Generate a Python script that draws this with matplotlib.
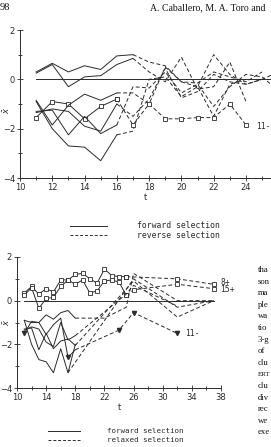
import matplotlib
matplotlib.use("Agg")
import matplotlib.pyplot as plt
import numpy as np

W, H = 271, 447
INK = "#2a2a2a"

# ---------------- top panel data (forward / reverse selection) ----------------
top_fwd_t = [11, 12, 13, 14, 15, 16, 17]
top_fwd = {
    "s1": [0.3, 0.65, 0.3, 0.55, 0.4, 0.95, 1.0],
    "s2": [0.25, 0.6, -0.3, 0.1, 0.15, 0.6, 0.85],
}
top_fwd_low_t = [11, 12, 13, 14, 15, 16]
top_fwd_low = {
    "s3": [-1.55, -0.9, -1.0, -1.6, -1.1, -0.8],
    "s4": [-0.85, -1.85, -1.05, -0.6, -0.85, -0.55],
    "s5": [-0.9, -2.0, -2.7, -2.75, -3.3, -2.25],
    "s6": [-1.3, -1.25, -2.25, -1.5, -2.2, -1.85],
    "s7": [-1.35, -1.2, -1.3, -1.9, -2.1, -1.0],
}
top_rev_t = [16, 17, 18, 19, 20, 21, 22, 23, 24, 25, 26]
top_rev = {
    "s1": [None, 1.0, 0.7, 0.55, -0.1, -0.3, 1.0, 0.2, -0.2, 0.0, 0.3],
    "s2": [None, 0.85, 0.3, -0.1, 0.9, -0.4, -0.3, 0.7, -0.9, None, None],
    "s4": [-0.55, -0.55, -1.0, 0.5, -0.1, -0.15, 0.3, 0.1, -0.1, 0.3, None],
    "s5": [-2.25, -2.1, 0.0, 0.1, -0.7, -0.3, -1.5, -0.2, 0.0, None, None],
    "s6": [-1.85, -0.3, -0.35, 0.3, -0.55, -0.2, -1.1, -0.3, 0.2, 0.1, -0.45],
    "s7": [-1.0, -1.5, -0.8, 0.45, -0.75, -0.5, 0.2, -0.1, -0.2, 0.0, None],
}
top_sq_t = [16, 17, 18, 19, 20, 21, 22, 23, 24]
top_sq = [-0.8, -1.85, -1.0, -1.6, -1.6, -1.55, -1.55, -1.0, -1.85]

# ---------------- bottom panel data (forward / relaxed selection) ----------------
bot_up_t = list(range(11, 26))
bot_8 = [0.35, 0.65, 0.3, 0.55, 0.4, 0.95, 0.95, 1.2, 1.25, 1.0, 0.8, 1.45, 1.15, 1.1, 1.1]
bot_15 = [0.25, 0.6, -0.35, 0.1, 0.15, 0.65, 0.95, 0.75, 0.95, 0.35, 0.45, 0.9, 0.95, 0.85, 0.25]
bot_8_rel_t = [25, 32, 37]
bot_8_rel = [1.1, 1.0, 0.75]
bot_15_rel_t = [25, 26, 32, 37]
bot_15_rel = [0.25, 0.5, 0.75, 0.55]

bot_low_t = [11, 12, 13, 14, 15, 16, 17, 18]
bot_low = {
    "l1": [-1.5, -0.95, -1.0, -1.55, -1.1, -0.8, -2.6, -2.25],
    "l2": [-0.9, -1.0, -1.0, -0.65, -0.85, -0.55, -0.45, -0.8],
    "l3": [-0.9, -2.0, -2.7, -2.8, -3.3, -2.2, -3.3, -2.0],
    "l4": [-1.3, -1.25, -2.25, -1.5, -2.2, -1.85, -1.75, -2.05],
    "l5": [-1.35, -1.2, -1.3, -1.9, -2.1, -1.0, -1.8, -1.6],
}
bot_rel = {
    "l1": ([18, 24, 26, 32], [-2.25, -1.35, -0.55, -1.5]),
    "l2": ([18, 22, 25, 26, 32, 37], [-0.8, -0.8, -0.3, 1.25, 0.0, 0.0]),
    "l3": ([17, 26, 32, 37], [-3.3, 1.0, -0.3, 0.0]),
    "l4": ([18, 26, 32, 37], [-2.05, 0.9, -0.75, 0.0]),
    "l5": ([18, 25, 26, 32], [-1.6, 0.3, 0.7, -0.25]),
}
tri_t = [11, 17, 24, 26, 32]
tri_y = [-1.5, -2.6, -1.35, -0.55, -1.5]

fig = plt.figure(figsize=(W / 100, H / 100), dpi=100)
fig.patch.set_facecolor("white")

LW = 0.7
mono = "DejaVu Sans Mono"
tickfont = 6


def style(ax):
    for s in ("top", "right"):
        ax.spines[s].set_visible(False)
    for s in ("left", "bottom"):
        ax.spines[s].set_color(INK)
        ax.spines[s].set_linewidth(0.7)
    ax.tick_params(which="both", direction="inout", colors=INK, labelsize=tickfont, width=0.6, pad=1.5)
    ax.tick_params(which="major", length=4)
    ax.tick_params(which="minor", length=3)
    ax.set_facecolor("none")


def px_axes(l, r, top, bot):
    return fig.add_axes([l / W, 1 - bot / H, (r - l) / W, (bot - top) / H])


# ---------------- top panel ----------------
ax1 = px_axes(20, 271, 30, 178)
style(ax1)
ax1.set_xlim(10, 10 + 251 / 16.14)
ax1.set_ylim(-4, 2)
ax1.set_xticks(np.arange(10, 25, 2))
ax1.set_xticks(np.arange(10, 26, 1), minor=True)
ax1.set_yticks([-4, -2, 0, 2])
ax1.set_yticks(np.arange(-4, 3, 1), minor=True)
ax1.plot([11, 26], [0, 0], color=INK, lw=LW, clip_on=True)
for k, v in top_fwd.items():
    ax1.plot(top_fwd_t, v, color=INK, lw=LW)
for k, v in top_fwd_low.items():
    ax1.plot(top_fwd_low_t, v, color=INK, lw=LW,
             marker="s" if k == "s3" else None, ms=3, mfc="white", mew=0.6)
for k, v in top_rev.items():
    tt = [t for t, y in zip(top_rev_t, v) if y is not None]
    yy = [y for y in v if y is not None]
    ax1.plot(tt, yy, color=INK, lw=LW, ls=(0, (4, 2.5)))
ax1.plot(top_sq_t, top_sq, color=INK, lw=LW, ls=(0, (4, 2.5)), marker="s", ms=3, mfc="white", mew=0.6)
ax1.text(24.6, -1.9, "11-", fontsize=5.8, color=INK, va="center", family=mono)
ax1.set_xlabel("t", fontsize=6, color=INK, labelpad=1)

# ---------------- bottom panel ----------------
ax2 = px_axes(17, 221, 257, 388)
style(ax2)
ax2.set_xlim(10, 38)
ax2.set_ylim(-4, 2)
ax2.set_xticks(np.arange(10, 39, 4))
ax2.set_xticks(np.arange(10, 39, 2), minor=True)
ax2.set_yticks([-4, -2, 0, 2])
ax2.set_yticks(np.arange(-4, 3, 1), minor=True)
ax2.plot([11, 37], [0, 0], color=INK, lw=LW)
ax2.plot(bot_up_t, bot_8, color=INK, lw=LW, marker="s", ms=3, mfc="white", mew=0.6)
ax2.plot(bot_up_t, bot_15, color=INK, lw=LW, marker="s", ms=3, mfc="white", mew=0.6)
ax2.plot(bot_8_rel_t, bot_8_rel, color=INK, lw=LW, ls=(0, (4, 2.5)), marker="s", ms=3, mfc="white", mew=0.6)
ax2.plot(bot_15_rel_t, bot_15_rel, color=INK, lw=LW, ls=(0, (4, 2.5)), marker="s", ms=3, mfc="white", mew=0.6)
for k, v in bot_low.items():
    ax2.plot(bot_low_t, v, color=INK, lw=LW)
for k, (tt, yy) in bot_rel.items():
    ax2.plot(tt, yy, color=INK, lw=LW, ls=(0, (4, 2.5)))
ax2.plot(tri_t, tri_y, ls="none", marker="v", ms=3, color=INK)
ax2.text(37.9, 0.85, "8+", fontsize=5.8, color=INK, va="center", family=mono)
ax2.text(37.9, 0.5, "15+", fontsize=5.8, color=INK, va="center", family=mono)
ax2.text(33.0, -1.5, "11-", fontsize=5.8, color=INK, va="center", family=mono)
ax2.set_xlabel("t", fontsize=6, color=INK, labelpad=1)

# y-axis labels (x-bar)
fig.text(1 / W, 1 - 110 / H, r"$\bar{x}$", rotation=90, fontsize=6, color=INK, va="center", ha="left")
fig.text(1 / W, 1 - 322 / H, r"$\bar{x}$", rotation=90, fontsize=6, color=INK, va="center", ha="left")

# legends
def legend(y1, y2, x0, x1, tx, lab1, lab2, fs):
    fig.add_artist(plt.Line2D([x0 / W, x1 / W], [1 - y1 / H] * 2, color=INK, lw=0.7))
    fig.add_artist(plt.Line2D([x0 / W, x1 / W], [1 - y2 / H] * 2, color=INK, lw=0.7, ls=(0, (3, 2))))
    fig.text(tx / W, 1 - y1 / H, lab1, fontsize=fs, family=mono, color=INK, va="center")
    fig.text(tx / W, 1 - y2 / H, lab2, fontsize=fs, family=mono, color=INK, va="center")

legend(226, 235, 70, 107, 137, "forward selection", "reverse selection", 5.9)
legend(431, 440, 48, 80, 107, "forward selection", "relaxed selection", 5.4)

# page header
fig.text(0 / W, 1 - 8 / H, "98", fontsize=7.5, family="Liberation Serif", color="#111", va="center")
fig.text(150 / W, 1 - 8 / H, "A. Caballero, M. A. Toro and", fontsize=7.0,
         family="Liberation Serif", color="#111", va="center")

# right column text fragments
frags = ["tha", "son", "ma", "ple", "wa", "tio", "3-g", "of", "clu",
         "ERT", "clu", "div", "rec", "we", "exe"]
for i, s in enumerate(frags):
    fig.text(258 / W, 1 - (270 + i * 11.6) / H, s, fontsize=5.0 if s == "ERT" else 6.2,
             family="Liberation Serif", color="#111", va="center")

fig.savefig("out.png", dpi=100, facecolor="white")
